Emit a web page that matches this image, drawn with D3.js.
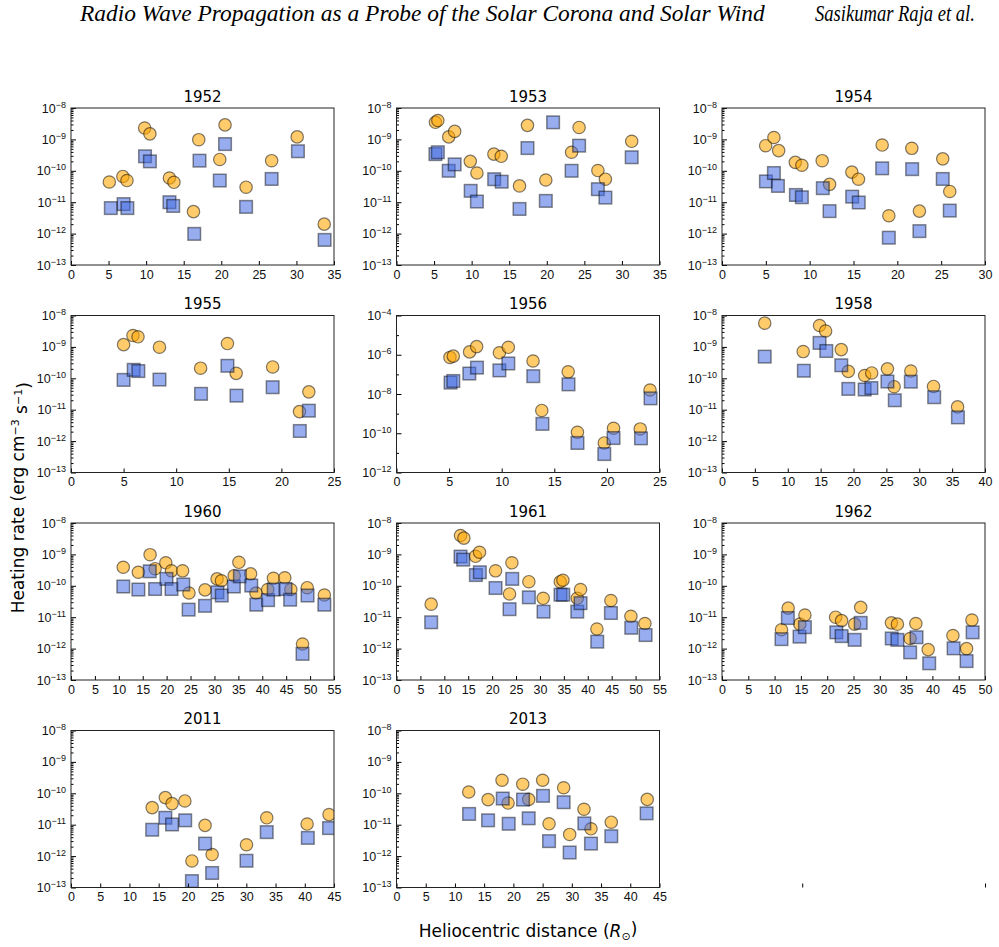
<!DOCTYPE html>
<html>
<head>
<meta charset="utf-8">
<script src="https://cdn.jsdelivr.net/npm/d3@7"></script>
<style>
  body { margin: 0; background: #fff; }
  svg { display: block; font-family: 'DejaVu Sans', sans-serif; }
</style>
</head>
<body>
<div id="svg-container"></div>
<script>
// panel titles, x ranges and log y ranges (exponents)
const years = ['1952', '1953', '1954', '1955', '1956', '1958', '1960', '1961', '1962', '2011', '2013']
const xMaxes = [35, 35, 30, 25, 25, 40, 55, 55, 50, 45, 45]
const yExps = [[-13, -8], [-13, -8], [-13, -8], [-13, -8], [-12, -4], [-13, -8], [-13, -8], [-13, -8], [-13, -8], [-13, -8], [-13, -8]]

// heliocentric distance (R_sun) and heating rate (erg cm^-3 s^-1)
// circles = orange markers, squares = blue markers
const circX1952 = [5.1, 6.9, 7.45, 9.8, 10.5, 13.1, 13.7, 16.3, 17.0, 19.8, 20.5, 23.3, 26.7, 30.1, 33.7]
const circY1952 = [4.4e-11, 6.6e-11, 4.9e-11, 2.3e-9, 1.5e-9, 5.9e-11, 4.3e-11, 5e-12, 9.8e-10, 2.3e-10, 2.9e-9, 3e-11, 2.1e-10, 1.2e-9, 2e-12]
const sqX1952 = [5.3, 7.0, 7.5, 9.85, 10.5, 13.1, 13.6, 16.4, 17.1, 19.8, 20.5, 23.3, 26.7, 30.2, 33.75]
const sqY1952 = [6.5e-12, 8.7e-12, 6.5e-12, 2.9e-10, 2e-10, 1e-11, 7.6e-12, 9.8e-13, 2.1e-10, 4.9e-11, 7.1e-10, 7.1e-12, 5.5e-11, 4.2e-10, 6.3e-13]

const circX1953 = [5.18, 5.5, 6.95, 7.74, 9.82, 10.7, 12.96, 13.94, 16.37, 17.43, 19.87, 23.3, 24.3, 26.8, 27.8, 31.3]
const circY1953 = [3.5e-9, 4e-9, 1.2e-9, 1.8e-9, 2e-10, 8.5e-11, 3.4e-10, 2.9e-10, 3.3e-11, 2.8e-9, 5.1e-11, 3.9e-10, 2.4e-9, 1.02e-10, 5.4e-11, 8.7e-10]
const sqX1953 = [5.18, 5.5, 6.95, 7.74, 9.87, 10.7, 13.0, 14.0, 16.37, 17.43, 19.87, 20.84, 23.3, 24.3, 26.8, 27.8, 31.3]
const sqY1953 = [3.4e-10, 3.9e-10, 1e-10, 1.6e-10, 2.3e-11, 1.05e-11, 5.4e-11, 4.5e-11, 6.1e-12, 5.3e-10, 1.1e-11, 3.5e-9, 1e-10, 6.3e-10, 2.6e-11, 1.4e-11, 2.7e-10]

const circX1954 = [4.98, 5.92, 6.46, 8.36, 9.11, 11.43, 12.27, 14.81, 15.57, 18.27, 19.03, 21.65, 22.52, 25.18, 25.98]
const circY1954 = [6.3e-10, 1.15e-9, 4.4e-10, 1.86e-10, 1.5e-10, 2.1e-10, 3.7e-11, 9.1e-11, 5.4e-11, 6.6e-10, 3.7e-12, 5.2e-10, 5.2e-12, 2.4e-10, 2.2e-11]
const sqX1954 = [5.01, 5.92, 6.38, 8.43, 9.11, 11.5, 12.27, 14.85, 15.6, 18.27, 19.03, 21.69, 22.52, 25.18, 25.98]
const sqY1954 = [4.6e-11, 8.5e-11, 3.3e-11, 1.7e-11, 1.44e-11, 2.8e-11, 5.2e-12, 1.5e-11, 9.8e-12, 1.2e-10, 7.4e-13, 1.13e-10, 1.2e-12, 5.5e-11, 5.4e-12]

const circX1955 = [5.0, 5.89, 6.37, 8.41, 12.32, 14.87, 15.7, 19.17, 21.72, 22.61]
const circY1955 = [1.18e-9, 2.3e-9, 2.1e-9, 9.8e-10, 2.1e-10, 1.28e-9, 1.44e-10, 2.3e-10, 8.7e-12, 3.7e-11]
const sqX1955 = [5.0, 5.96, 6.4, 8.41, 12.36, 14.87, 15.73, 19.17, 21.75, 22.61]
const sqY1955 = [8.9e-11, 1.86e-10, 1.7e-10, 9.1e-11, 3.2e-11, 2.5e-10, 2.8e-11, 5.2e-11, 2.1e-12, 9.3e-12]

const circX1956 = [5.08, 5.4, 6.95, 7.62, 9.78, 10.63, 12.98, 13.81, 16.32, 17.2, 19.75, 20.63, 23.17, 24.1]
const circY1956 = [7.3e-7, 8.5e-7, 1.4e-6, 2.6e-6, 1.26e-6, 2.4e-6, 4.8e-7, 1.45e-9, 1.35e-7, 1.12e-10, 3.2e-11, 1.8e-10, 1.66e-10, 1.6e-8]
const sqX1956 = [5.14, 5.4, 6.92, 7.65, 9.78, 10.63, 13.0, 13.87, 16.35, 17.2, 19.75, 20.63, 23.24, 24.15]
const sqY1956 = [3.8e-8, 4.6e-8, 1.1e-7, 2.2e-7, 1.6e-7, 3.6e-7, 8.1e-8, 3e-10, 3.1e-8, 3.2e-11, 8.7e-12, 5.7e-11, 5.5e-11, 6e-9]

const circX1958 = [6.5, 12.35, 14.84, 15.76, 18.14, 19.21, 21.7, 22.77, 25.16, 26.18, 28.72, 32.17, 35.83]
const circY1958 = [5.7e-9, 7.1e-10, 4.8e-9, 3.2e-9, 8.2e-10, 1.66e-10, 1.23e-10, 1.48e-10, 2e-10, 5.4e-11, 1.7e-10, 5.5e-11, 1.23e-11]
const sqX1958 = [6.5, 12.45, 14.84, 15.86, 18.14, 19.21, 21.7, 22.72, 25.16, 26.28, 28.72, 32.27, 35.88]
const sqY1958 = [4.9e-10, 1.74e-10, 1.34e-9, 7.4e-10, 2.6e-10, 4.6e-11, 4.4e-11, 4.9e-11, 7.9e-11, 2e-11, 7.8e-11, 2.5e-11, 5.7e-12]

const circX1960 = [10.93, 14.09, 16.54, 17.59, 19.83, 21.02, 23.34, 24.67, 28.03, 30.55, 31.46, 34.13, 35.11, 37.56, 38.68, 41.14, 42.33, 44.71, 45.97, 48.42, 49.4, 52.98]
const circY1960 = [3.9e-10, 2.7e-10, 9.8e-10, 3.5e-10, 5.4e-10, 3e-10, 3e-10, 5.9e-11, 7.4e-11, 1.66e-10, 1.45e-10, 2.1e-10, 5.6e-10, 2.4e-10, 5.9e-11, 7.6e-11, 1.74e-10, 1.8e-10, 7.6e-11, 1.4e-12, 8.7e-11, 5.1e-11]
const sqX1960 = [10.93, 14.09, 16.47, 17.59, 19.97, 21.02, 23.48, 24.6, 28.03, 30.62, 31.53, 34.06, 35.32, 37.7, 38.75, 41.21, 42.4, 44.85, 45.83, 48.42, 49.47, 52.98]
const sqY1960 = [9.5e-11, 7.6e-11, 2.9e-10, 7.9e-11, 1.66e-10, 7.9e-11, 1.1e-10, 1.74e-11, 2.3e-11, 6.2e-11, 4.9e-11, 9.5e-11, 2e-10, 1.02e-10, 2.5e-11, 3.5e-11, 7.6e-11, 7.9e-11, 3.6e-11, 6.8e-13, 4.9e-11, 2.5e-11]

const circX1961 = [7.25, 13.39, 14.09, 16.53, 17.36, 20.71, 23.64, 24.13, 27.68, 30.68, 34.24, 34.8, 37.8, 38.49, 41.91, 44.84, 49.02, 51.95]
const circY1961 = [2.6e-11, 4e-9, 3.3e-9, 8.7e-10, 1.17e-9, 3e-10, 5.5e-11, 5.4e-10, 1.35e-10, 4e-11, 1.35e-10, 1.5e-10, 4e-11, 7.6e-11, 4.2e-12, 3.4e-11, 1.07e-11, 6.3e-12]
const sqX1961 = [7.25, 13.39, 13.95, 16.6, 17.43, 20.71, 23.64, 24.2, 27.68, 30.75, 34.3, 34.87, 37.8, 38.49, 41.98, 44.84, 49.09, 52.09]
const sqY1961 = [6.9e-12, 8.5e-10, 6.8e-10, 2.2e-10, 2.7e-10, 8.5e-11, 1.8e-11, 1.66e-10, 4.3e-11, 1.5e-11, 5.2e-11, 5.2e-11, 1.5e-11, 2.8e-11, 1.66e-12, 1.36e-11, 4.6e-12, 2.7e-12]

const circX1962 = [11.31, 12.58, 14.8, 15.76, 21.6, 22.74, 25.22, 26.37, 32.21, 33.35, 35.77, 36.85, 39.2, 43.9, 46.5, 47.52]
const circY1962 = [4e-12, 1.95e-11, 6e-12, 1.17e-11, 1e-11, 7.8e-12, 6e-12, 2.05e-11, 6.6e-12, 6e-12, 2.1e-12, 6.3e-12, 9.3e-13, 2.6e-12, 1e-12, 8.1e-12]
const sqX1962 = [11.31, 12.52, 14.74, 15.76, 21.73, 22.74, 25.22, 26.37, 32.27, 33.35, 35.77, 36.98, 39.39, 44.03, 46.5, 47.65]
const sqY1962 = [2e-12, 9.4e-12, 2.4e-12, 4.8e-12, 3.3e-12, 2.5e-12, 1.9e-12, 6.6e-12, 2.1e-12, 1.9e-12, 7.6e-13, 2.3e-12, 3.4e-13, 1.02e-12, 4e-13, 3.3e-12]

const circX2011 = [13.89, 16.14, 17.29, 19.48, 20.69, 22.94, 24.15, 30.03, 33.49, 40.4, 44.15]
const circY2011 = [3.5e-11, 7.3e-11, 4.7e-11, 5.7e-11, 7e-13, 9.5e-12, 1.12e-12, 2.3e-12, 1.66e-11, 1.05e-11, 2.1e-11]
const sqX2011 = [13.89, 16.14, 17.29, 19.54, 20.69, 22.94, 24.15, 30.03, 33.49, 40.52, 44.15]
const sqY2011 = [6.9e-12, 1.66e-11, 1.02e-11, 1.38e-11, 1.6e-13, 2.5e-12, 2.9e-13, 7.1e-13, 5.8e-12, 3.8e-12, 7.8e-12]

const circX2013 = [12.36, 15.67, 18.06, 19.09, 21.6, 22.62, 25.01, 26.1, 28.6, 29.63, 32.08, 33.28, 36.75, 42.9]
const circY2013 = [1.1e-10, 6.3e-11, 2.6e-10, 4.9e-11, 1.95e-10, 6.4e-11, 2.6e-10, 1.07e-11, 1.5e-10, 4.9e-12, 3.1e-11, 7.4e-12, 1.2e-11, 6.4e-11]
const sqX2013 = [12.42, 15.67, 18.18, 19.2, 21.65, 22.62, 25.07, 26.1, 28.6, 29.63, 32.14, 33.28, 36.75, 42.8]
const sqY2013 = [2.2e-11, 1.38e-11, 6.8e-11, 1.07e-11, 6.3e-11, 1.6e-11, 8.3e-11, 3e-12, 5.2e-11, 1.3e-12, 1.1e-11, 2.5e-12, 4.3e-12, 2.3e-11]

const circXs = [circX1952, circX1953, circX1954, circX1955, circX1956, circX1958, circX1960, circX1961, circX1962, circX2011, circX2013]
const circYs = [circY1952, circY1953, circY1954, circY1955, circY1956, circY1958, circY1960, circY1961, circY1962, circY2011, circY2013]
const sqXs = [sqX1952, sqX1953, sqX1954, sqX1955, sqX1956, sqX1958, sqX1960, sqX1961, sqX1962, sqX2011, sqX2013]
const sqYs = [sqY1952, sqY1953, sqY1954, sqY1955, sqY1956, sqY1958, sqY1960, sqY1961, sqY1962, sqY2011, sqY2013]

;(function () {
  // Layout
  var grid = { left: 71, top: 108, colStep: 325.5, rowStep: 207.5 }
  var plotW = 263,
    plotH = 157,
    circR = 6.2,
    sqSide = 12.6

  var svg = d3
    .select('#svg-container')
    .append('svg')
    .attr('width', 999)
    .attr('height', 947)

  var defs = svg.append('defs')

  // page header: condensed Times-like italic, squeezed horizontally to fit
  function header(str, x0, width) {
    var t = svg
      .append('text')
      .attr('font-family', 'Liberation Serif, Times New Roman, serif')
      .attr('font-style', 'italic')
      .attr('font-size', 23)
      .text(str)
    var len = t.node().getComputedTextLength()
    t.attr('transform', `translate(${x0}, 21) scale(${width / len}, 1)`)
  }
  header('Radio Wave Propagation as a Probe of the Solar Corona and Solar Wind', 80, 685)
  header('Sasikumar Raja et al.', 815, 160)

  function supLabel(sel, exp) {
    sel.text('')
    sel.append('tspan').text('10')
    sel
      .append('tspan')
      .attr('dy', '-0.55em')
      .style('font-size', '9px')
      .text('\u2212' + Math.abs(exp))
  }

  years.forEach((year, i) => {
    var col = i % 3,
      row = Math.floor(i / 3)
    var ox = grid.left + col * grid.colStep,
      oy = grid.top + row * grid.rowStep

    var x = d3.scaleLinear().domain([0, xMaxes[i]]).range([0, plotW])
    var ext = yExps[i]
    var y = d3
      .scaleLog()
      .domain([Math.pow(10, ext[0]), Math.pow(10, ext[1])])
      .range([plotH, 0])

    var step = ext[1] - ext[0] > 6 ? 2 : 1
    var majors = d3.range(ext[0], ext[1] + 1, step).map(e => Math.pow(10, e))
    var minors = []
    for (var e = ext[0]; e < ext[1]; e++) {
      if (step === 1) {
        for (var m = 2; m <= 9; m++) minors.push(m * Math.pow(10, e))
      } else if ((e - ext[0]) % 2 === 1) {
        minors.push(Math.pow(10, e))
      }
    }

    var g = svg.append('g').attr('transform', `translate(${ox}, ${oy})`)

    defs
      .append('clipPath')
      .attr('id', `clip-${i}`)
      .append('rect')
      .attr('width', plotW)
      .attr('height', plotH)

    // title
    g.append('text')
      .attr('x', plotW / 2)
      .attr('y', -6.5)
      .attr('text-anchor', 'middle')
      .style('font-size', '15px')
      .text(year)

    // markers
    var marks = g.append('g').attr('clip-path', `url(#clip-${i})`)

    marks
      .selectAll('circle')
      .data(d3.zip(circXs[i], circYs[i]))
      .enter()
      .append('circle')
      .attr('cx', d => x(d[0]))
      .attr('cy', d => y(d[1]))
      .attr('r', circR)
      .attr('fill', '#ffa500')
      .attr('fill-opacity', 0.58)
      .attr('stroke', '#000')
      .attr('stroke-opacity', 0.5)
      .attr('stroke-width', 1.2)

    marks
      .selectAll('rect')
      .data(d3.zip(sqXs[i], sqYs[i]))
      .enter()
      .append('rect')
      .attr('x', d => x(d[0]) - sqSide / 2)
      .attr('y', d => y(d[1]) - sqSide / 2)
      .attr('width', sqSide)
      .attr('height', sqSide)
      .attr('fill', '#4169e1')
      .attr('fill-opacity', 0.55)
      .attr('stroke', '#000')
      .attr('stroke-opacity', 0.45)
      .attr('stroke-width', 1.5)

    // x axis, ticks pointing in
    g.append('g')
      .attr('transform', `translate(0, ${plotH})`)
      .call(
        d3
          .axisBottom(x)
          .tickValues(d3.range(0, xMaxes[i] + 0.01, 5))
          .tickSize(-4)
          .tickPadding(5)
          .tickFormat(d3.format('d')),
      )
      .call(a => a.select('.domain').remove())
      .call(a => a.selectAll('text').style('font-size', '12.5px').attr('fill', '#111'))

    // y axis majors with superscript labels
    g.append('g')
      .call(d3.axisLeft(y).tickValues(majors).tickSize(-5).tickPadding(5))
      .call(a => a.select('.domain').remove())
      .call(a =>
        a
          .selectAll('.tick text')
          .style('font-size', '12.5px')
          .attr('fill', '#111')
          .each(function (d) {
            supLabel(d3.select(this), Math.round(Math.log10(d)))
          }),
      )

    // y minor ticks
    g.append('g')
      .call(d3.axisLeft(y).tickValues(minors).tickSize(-2.5).tickFormat(''))
      .call(a => a.select('.domain').remove())

    // frame
    g.append('rect')
      .attr('width', plotW)
      .attr('height', plotH)
      .attr('fill', 'none')
      .attr('stroke', '#222')
      .attr('stroke-width', 1)
  })

  // leftover ticks of the unused twelfth axes
  var emptyX = d3.scaleLinear().domain([0, 1]).range([0, plotW])
  svg
    .append('g')
    .attr('transform', `translate(${grid.left + 2 * grid.colStep}, ${grid.top + 3 * grid.rowStep + plotH})`)
    .call(d3.axisBottom(emptyX).tickValues([0.305, 1]).tickSize(-4).tickFormat(''))
    .call(a => a.select('.domain').remove())

  // shared axis labels
  var ylab = svg
    .append('text')
    .attr('transform', `translate(24, ${grid.top + (3 * grid.rowStep + plotH) / 2}) rotate(-90)`)
    .attr('text-anchor', 'middle')
    .style('font-size', '17px')
  ylab.append('tspan').text('Heating rate (erg cm')
  ylab.append('tspan').attr('dy', '-0.5em').style('font-size', '11px').text('\u22123')
  ylab.append('tspan').attr('dy', '0.5em').text(' s')
  ylab.append('tspan').attr('dy', '-0.5em').style('font-size', '11px').text('\u22121')
  ylab.append('tspan').attr('dy', '0.5em').text(')')

  var xlab = svg
    .append('text')
    .attr('x', grid.left + (2 * grid.colStep + plotW) / 2)
    .attr('y', 937)
    .attr('text-anchor', 'middle')
    .style('font-size', '17px')
  xlab.append('tspan').text('Heliocentric distance (')
  xlab.append('tspan').style('font-style', 'italic').text('R')
  xlab.append('tspan').attr('dy', '0.3em').style('font-size', '11px').text('\u2299')
  xlab.append('tspan').attr('dy', '-0.3em').text(')')
})()
</script>
</body>
</html>
